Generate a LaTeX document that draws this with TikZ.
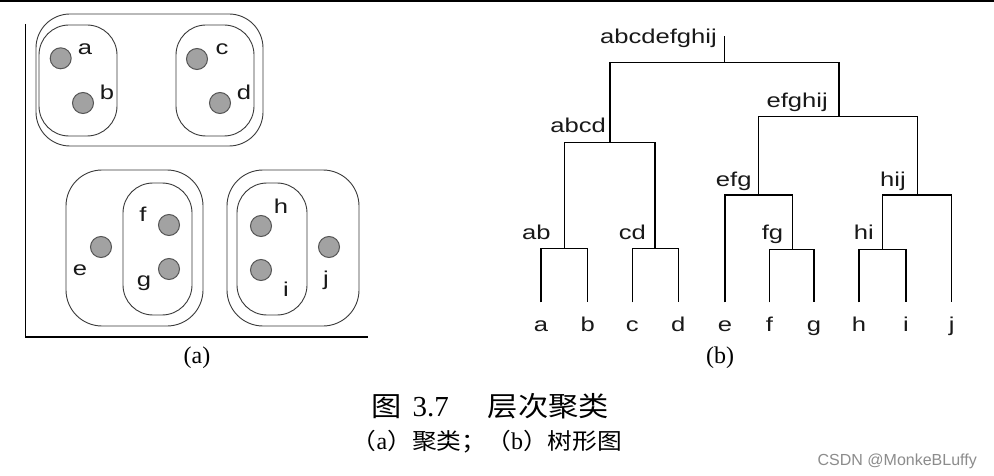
\documentclass[tikz,border=0pt]{standalone}
\usepackage{fontspec}
\usetikzlibrary{calc}
\newfontfamily\lab[FakeStretch=1.28]{Liberation Sans}
\newfontfamily\serif{Liberation Serif}
\newfontfamily\cjk[FakeStretch=1.1]{Noto Sans CJK SC}
\newfontfamily\wm{Liberation Sans}
\definecolor{dotfill}{HTML}{A2A2A2}
\definecolor{dotline}{HTML}{555555}
\definecolor{boxline}{HTML}{3A3A3A}
\tikzset{
  lbl/.style={font=\lab\fontsize{20}{20}\selectfont, inner sep=0pt, text=black!90},
  dot/.style={circle, draw=dotline, fill=dotfill, line width=1pt, minimum size=21pt, inner sep=0pt},
  clusterbox/.style={draw=boxline, line width=0.9pt, rounded corners=#1, inner sep=0pt},
  clusterbox/.default=34pt,
  tree/.style={line width=1.4pt, black},
  axisline/.style={line width=1.5pt, black},
  sub/.style={font=\serif\fontsize{24}{24}\selectfont, inner sep=0pt, anchor=base},
}
\begin{document}
\begin{tikzpicture}[x=1pt, y=-1pt]
\useasboundingbox (0,0) rectangle (994,476);
\fill[white] (0,0) rectangle (994,476);
% top rule
\fill[black] (0,0) rectangle (994,1.7);

% ---------- (a) clustering ----------
\coordinate (ytop) at (25.3,24);
\coordinate (xend) at (368,337);
\draw[axisline] (ytop) |- (xend);

\node[clusterbox, minimum width=227pt, minimum height=132pt] (abcd) at (149.5,80) {};
\node[clusterbox=30pt, minimum width=78pt, minimum height=111pt] (ab) at (78,80.5) {};
\node[clusterbox=30pt, minimum width=78pt, minimum height=111pt] (cd) at (215,80.5) {};
\node[clusterbox=36pt, minimum width=137pt, minimum height=156pt] (efg) at (134.5,248) {};
\node[clusterbox=30pt, minimum width=69pt, minimum height=132pt] (fg) at (157.5,249) {};
\node[clusterbox=36pt, minimum width=132pt, minimum height=156pt] (hij) at (293,248) {};
\node[clusterbox=30pt, minimum width=70pt, minimum height=132pt] (hi) at (272,249) {};

\node[dot] (pa) at (60.7,58.3) {};
\node[dot] (pb) at (83,103) {};
\node[dot] (pc) at (197,59) {};
\node[dot] (pd) at (220,103) {};
\node[dot] (pe) at (101,247) {};
\node[dot] (pf) at (169,225) {};
\node[dot] (pg) at (169,269) {};
\node[dot] (ph) at (261,226) {};
\node[dot] (pi) at (261,270) {};
\node[dot] (pj) at (329,247) {};

\node[lbl, anchor=base] (ta) at (85,55) {a};
\node[lbl, anchor=base] (tb) at (107,100) {b};
\node[lbl, anchor=base] (tc) at (222,55) {c};
\node[lbl, anchor=base] (td) at (244,100) {d};
\node[lbl, anchor=base] (te) at (80,275) {e};
\node[lbl, anchor=base] (tf) at (143,221.7) {f};
\node[lbl, anchor=base] (tg) at (144,286) {g};
\node[lbl, anchor=base] (th) at (281,213.3) {h};
\node[lbl, anchor=base] (ti) at (286,296.7) {i};
\node[lbl, anchor=base] (tj) at (326,285) {j};

\node[sub] (capa) at (197,363) {(a)};

% ---------- (b) dendrogram ----------
\coordinate (la) at (541,302.3);
\coordinate (lb) at (587.7,302.3);
\coordinate (lc) at (632.3,302.3);
\coordinate (ld) at (678.3,302.3);
\coordinate (le) at (725,302.3);
\coordinate (lf) at (769.3,302.3);
\coordinate (lg) at (814,302.3);
\coordinate (lh) at (859,302.3);
\coordinate (li) at (906,302.3);
\coordinate (lj) at (951.7,302.3);

\coordinate (jab) at (564.3,248.3);
\coordinate (jcd) at (655,248.3);
\coordinate (jabcd) at (610,142.3);
\coordinate (jfg) at (792.3,249.3);
\coordinate (jefg) at (758.7,195);
\coordinate (jhi) at (882.3,249.3);
\coordinate (jhij) at (917.3,195);
\coordinate (jefghij) at (839,116.3);
\coordinate (jroot) at (724.3,62.7);
\coordinate (roottop) at (724.3,36);

\draw[tree] (la) |- (jab) -| (lb);
\draw[tree] (lc) |- (jcd) -| (ld);
\draw[tree] (jab) |- (jabcd) -| (jcd);
\draw[tree] (lf) |- (jfg) -| (lg);
\draw[tree] (le) |- (jefg) -| (jfg);
\draw[tree] (lh) |- (jhi) -| (li);
\draw[tree] (jhi) |- (jhij) -| (lj);
\draw[tree] (jefg) |- (jefghij) -| (jhij);
\draw[tree] (jabcd) |- (jroot) -| (jefghij);
\draw[tree] (jroot) -- (roottop);

\node[lbl, anchor=base east] (nroot) at (717,43.3) {abcdefghij};
\node[lbl, anchor=base east] (nabcd) at (606,132.3) {abcd};
\node[lbl, anchor=base east] (nefghij) at (828,107.5) {efghij};
\node[lbl, anchor=base east] (nefg) at (751.7,186) {efg};
\node[lbl, anchor=base east] (nhij) at (906,186) {hij};
\node[lbl, anchor=base east] (nab) at (550.7,239.3) {ab};
\node[lbl, anchor=base east] (ncd) at (646,239.3) {cd};
\node[lbl, anchor=base east] (nfg) at (783.3,239.3) {fg};
\node[lbl, anchor=base east] (nhi) at (874,239.3) {hi};

\foreach \l in {a,b,c,d,e,f,g,h,i,j}{
  \node[lbl, anchor=base] (leaf\l) at ($(l\l)+(0,29.4)$) {\l};
}

\node[sub] (capb) at (720,363) {(b)};

% ---------- caption ----------
\node[inner sep=0pt, anchor=base] (cap1) at (490,416)
  {\cjk\fontsize{27.5}{27.5}\selectfont 图\hspace{11pt}{\serif\fontsize{29}{29}\selectfont 3.7}\hspace{39pt}层次聚类};
\node[inner sep=0pt, anchor=base] (cap2) at (487,449)
  {\cjk\fontsize{22.5}{22.5}\selectfont （{\serif\fontsize{24}{24}\selectfont a}）聚类；（{\serif\fontsize{24}{24}\selectfont b}）树形图};
\node[inner sep=0pt, anchor=base east, text=black!45] (wmark) at (977,465)
  {\wm\fontsize{16}{16}\selectfont CSDN @MonkeBLuffy};
\end{tikzpicture}
\end{document}
